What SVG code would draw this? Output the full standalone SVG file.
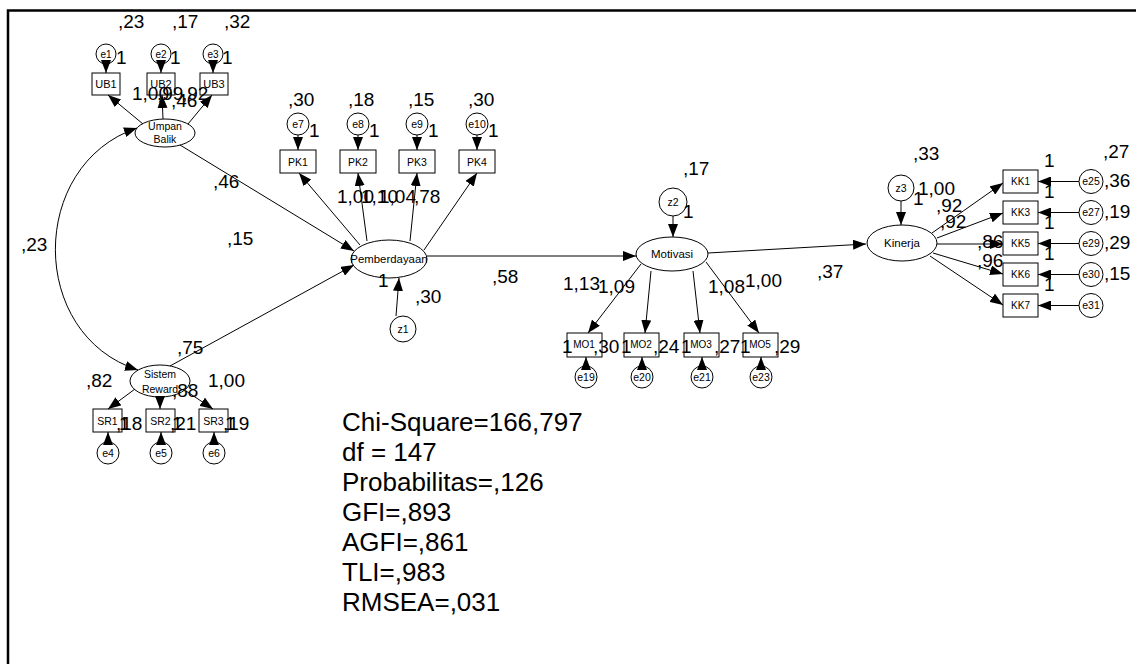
<svg xmlns="http://www.w3.org/2000/svg" width="1136" height="664" viewBox="0 0 1136 664">
<style>
.n rect,.n ellipse,.n circle{fill:#fff;stroke:#000;stroke-width:1}
text{font-family:"Liberation Sans",Arial,sans-serif;fill:#000}
.n text{font-size:10.5px;text-anchor:middle}
.n text.sm{font-size:10px}
.l{font-size:19px}
.s{font-size:26px}
#conn line,#conn path{stroke:#000;stroke-width:1;fill:none;marker-end:url(#ah)}
#conn path.dbl{marker-start:url(#ah2)}
</style>
<defs>
<marker id="ah" viewBox="0 0 13 10" refX="13" refY="5" markerWidth="13" markerHeight="10" markerUnits="userSpaceOnUse" orient="auto"><path d="M0,0 L13,5 L0,10 z" fill="#000"/></marker>
<marker id="ah2" viewBox="0 0 13 10" refX="13" refY="5" markerWidth="13" markerHeight="10" markerUnits="userSpaceOnUse" orient="auto-start-reverse"><path d="M0,0 L13,5 L0,10 z" fill="#000"/></marker>
</defs>
<rect width="1136" height="664" fill="#fff"/>
<path d="M8,664 V10.5 H1136" fill="none" stroke="#000" stroke-width="2.5"/>

<!-- nodes -->
<g class="n">
<g id="UmpanBalik"><ellipse cx="165" cy="133" rx="30" ry="14"/><text x="165" y="130">Umpan</text><text x="165" y="143">Balik</text></g>
<g id="UB1"><rect x="92" y="73" width="28" height="22"/><text x="106" y="88" style="font-size:11px">UB1</text></g>
<g id="UB2"><rect x="147" y="73" width="28" height="22"/><text x="161" y="88" style="font-size:11px">UB2</text></g>
<g id="UB3"><rect x="200" y="73" width="28" height="22"/><text x="214" y="88" style="font-size:11px">UB3</text></g>
<g id="e1"><circle cx="106" cy="54" r="10"/><text x="106" y="57.5" class="sm">e1</text></g>
<g id="e2"><circle cx="161" cy="54" r="10"/><text x="161" y="57.5" class="sm">e2</text></g>
<g id="e3"><circle cx="213" cy="54" r="10"/><text x="213" y="57.5" class="sm">e3</text></g>

<g id="SistemReward"><ellipse cx="160" cy="381" rx="30" ry="16"/><text x="160" y="378">Sistem</text><text x="160" y="393">Reward</text></g>
<g id="SR1"><rect x="93" y="409" width="29" height="23"/><text x="107.5" y="424.5">SR1</text></g>
<g id="SR2"><rect x="146" y="409" width="29" height="23"/><text x="160.5" y="424.5">SR2</text></g>
<g id="SR3"><rect x="199" y="409" width="29" height="23"/><text x="213.5" y="424.5">SR3</text></g>
<g id="e4"><circle cx="108" cy="453" r="11"/><text x="108" y="457">e4</text></g>
<g id="e5"><circle cx="161" cy="453" r="11"/><text x="161" y="457">e5</text></g>
<g id="e6"><circle cx="214" cy="453" r="11"/><text x="214" y="457">e6</text></g>

<g id="Pemberdayaan"><ellipse cx="389" cy="259" rx="38" ry="19"/><text x="389" y="263" style="font-size:11.4px">Pemberdayaan</text></g>
<g id="PK1"><rect x="280" y="150" width="36" height="23"/><text x="298" y="165.5">PK1</text></g>
<g id="PK2"><rect x="340" y="150" width="36" height="23"/><text x="358" y="165.5">PK2</text></g>
<g id="PK3"><rect x="399" y="150" width="36" height="23"/><text x="417" y="165.5">PK3</text></g>
<g id="PK4"><rect x="459" y="150" width="36" height="23"/><text x="477" y="165.5">PK4</text></g>
<g id="e7"><circle cx="298" cy="124" r="11"/><text x="298" y="127.5">e7</text></g>
<g id="e8"><circle cx="358" cy="124" r="11"/><text x="358" y="127.5">e8</text></g>
<g id="e9"><circle cx="417" cy="124" r="11"/><text x="417" y="127.5">e9</text></g>
<g id="e10"><circle cx="477" cy="124" r="11"/><text x="477" y="127.5">e10</text></g>
<g id="z1"><circle cx="403" cy="329" r="13"/><text x="403" y="332.5">z1</text></g>

<g id="Motivasi"><ellipse cx="672" cy="254" rx="36" ry="17"/><text x="672" y="258" style="font-size:11.5px">Motivasi</text></g>
<g id="z2"><circle cx="673" cy="202" r="14"/><text x="673" y="205.5">z2</text></g>
<g id="MO1"><rect x="567" y="333" width="35" height="24"/><text x="584" y="348" class="sm">MO1</text></g>
<g id="MO2"><rect x="624" y="333" width="35" height="24"/><text x="641" y="348" class="sm">MO2</text></g>
<g id="MO3"><rect x="684" y="333" width="35" height="24"/><text x="701" y="348" class="sm">MO3</text></g>
<g id="MO5"><rect x="743" y="333" width="35" height="24"/><text x="760" y="348" class="sm">MO5</text></g>
<g id="e19"><circle cx="586" cy="377" r="11"/><text x="586" y="380.5">e19</text></g>
<g id="e20"><circle cx="642" cy="377" r="11"/><text x="642" y="380.5">e20</text></g>
<g id="e21"><circle cx="702" cy="377" r="11"/><text x="702" y="380.5">e21</text></g>
<g id="e23"><circle cx="761" cy="377" r="11"/><text x="761" y="380.5">e23</text></g>

<g id="Kinerja"><ellipse cx="902" cy="243" rx="35" ry="18"/><text x="902" y="247" style="font-size:11.5px">Kinerja</text></g>
<g id="z3"><circle cx="901" cy="188" r="13"/><text x="901" y="191.5">z3</text></g>
<g id="KK1"><rect x="1003" y="170" width="35" height="23"/><text x="1020.5" y="185" class="sm">KK1</text></g>
<g id="KK3"><rect x="1003" y="201" width="35" height="23"/><text x="1020.5" y="216" class="sm">KK3</text></g>
<g id="KK5"><rect x="1003" y="232" width="35" height="23"/><text x="1020.5" y="247" class="sm">KK5</text></g>
<g id="KK6"><rect x="1003" y="263" width="35" height="23"/><text x="1020.5" y="278" class="sm">KK6</text></g>
<g id="KK7"><rect x="1003" y="294" width="35" height="23"/><text x="1020.5" y="309" class="sm">KK7</text></g>
<g id="e25"><circle cx="1091" cy="181.5" r="12"/><text x="1091" y="185">e25</text></g>
<g id="e27"><circle cx="1091" cy="212.5" r="12"/><text x="1091" y="216">e27</text></g>
<g id="e29"><circle cx="1091" cy="243.5" r="12"/><text x="1091" y="247">e29</text></g>
<g id="e30"><circle cx="1091" cy="274.5" r="12"/><text x="1091" y="278">e30</text></g>
<g id="e31"><circle cx="1091" cy="305.5" r="12"/><text x="1091" y="309">e31</text></g>
</g>

<!-- labels -->
<g id="labels" class="l">
<text x="118" y="28">,23</text><text x="172" y="28">,17</text><text x="224" y="28">,32</text>
<text x="116" y="64">1</text><text x="170" y="64">1</text><text x="222" y="64">1</text>
<text x="132" y="100">1,00</text><text x="157" y="100">,99</text><text x="182" y="100">,92</text><text x="171" y="107">,46</text>
<text x="21" y="251">,23</text>
<text x="213" y="188">,46</text>
<text x="227" y="245">,15</text>
<text x="177" y="354">,75</text>
<text x="86" y="387">,82</text><text x="172" y="397">,88</text><text x="208" y="387">1,00</text>
<text x="116" y="430">,18</text><text x="119" y="430">1</text>
<text x="170" y="430">,21</text><text x="172" y="430">1</text>
<text x="223" y="430">,19</text><text x="225" y="430">1</text>
<text x="288" y="106">,30</text><text x="348" y="106">,18</text><text x="408" y="106">,15</text><text x="468" y="106">,30</text>
<text x="309" y="137">1</text><text x="369" y="137">1</text><text x="428" y="137">1</text><text x="488" y="137">1</text>
<text x="337" y="203">1,00</text><text x="361" y="203">1,10</text><text x="379" y="203">1,04</text><text x="414" y="203">,78</text>
<text x="378" y="287">1</text><text x="415" y="303">,30</text>
<text x="492" y="283">,58</text>
<text x="683" y="175">,17</text><text x="683" y="218">1</text>
<text x="563" y="290">1,13</text><text x="598" y="293">1,09</text><text x="708" y="293">1,08</text><text x="745" y="287">1,00</text>
<text x="817" y="278">,37</text>
<text x="562" y="353">1</text><text x="593" y="353">,30</text>
<text x="621" y="353">1</text><text x="653" y="353">,24</text>
<text x="681" y="353">1</text><text x="714" y="353">,27</text>
<text x="740" y="353">1</text><text x="774" y="353">,29</text>
<text x="913" y="160">,33</text><text x="913" y="205">1</text><text x="918" y="195">1,00</text>
<text x="936" y="212">,92</text><text x="940" y="228">,92</text><text x="977" y="248">,86</text><text x="977" y="267">,96</text>
<text x="1044" y="167">1</text><text x="1044" y="198">1</text><text x="1044" y="229">1</text><text x="1044" y="260">1</text><text x="1044" y="291">1</text>
<text x="1103" y="158">,27</text><text x="1104" y="187">,36</text><text x="1104" y="218">,19</text><text x="1104" y="249">,29</text><text x="1104" y="280">,15</text>
</g>

<!-- connectors -->
<g id="conn">
<path class="dbl" d="M137,128 C28,165 28,335 138,370"/>
<line x1="143" y1="124" x2="108" y2="95"/>
<line x1="163" y1="119" x2="162" y2="95"/>
<line x1="188" y1="124" x2="212" y2="95"/>
<line x1="106" y1="64" x2="106" y2="73"/>
<line x1="161" y1="64" x2="161" y2="73"/>
<line x1="213" y1="64" x2="213" y2="73"/>
<line x1="180" y1="145" x2="354" y2="251"/>
<line x1="170" y1="366" x2="354" y2="265"/>
<line x1="135" y1="389" x2="108" y2="409"/>
<line x1="160" y1="397" x2="160" y2="409"/>
<line x1="186" y1="391" x2="213" y2="409"/>
<line x1="108" y1="442" x2="108" y2="432"/>
<line x1="161" y1="442" x2="161" y2="432"/>
<line x1="214" y1="442" x2="214" y2="432"/>
<line x1="360" y1="245" x2="299" y2="173"/>
<line x1="367" y1="241" x2="358" y2="173"/>
<line x1="410" y1="241" x2="417" y2="173"/>
<line x1="424" y1="250" x2="477" y2="173"/>
<line x1="298" y1="135" x2="298" y2="150"/>
<line x1="358" y1="135" x2="358" y2="150"/>
<line x1="417" y1="135" x2="417" y2="150"/>
<line x1="477" y1="135" x2="477" y2="150"/>
<line x1="396" y1="316" x2="399" y2="278"/>
<line x1="427" y1="256" x2="636" y2="256"/>
<line x1="673" y1="216" x2="673" y2="237"/>
<line x1="708" y1="253" x2="866" y2="244"/>
<line x1="641" y1="264" x2="588" y2="333"/>
<line x1="651" y1="271" x2="645" y2="333"/>
<line x1="693" y1="271" x2="700" y2="333"/>
<line x1="706" y1="262" x2="759" y2="333"/>
<line x1="586" y1="366" x2="586" y2="357"/>
<line x1="642" y1="366" x2="642" y2="357"/>
<line x1="702" y1="366" x2="702" y2="357"/>
<line x1="761" y1="366" x2="761" y2="357"/>
<line x1="901" y1="201" x2="901" y2="225"/>
<line x1="932" y1="233" x2="1003" y2="183"/>
<line x1="937" y1="238" x2="1003" y2="213"/>
<line x1="937" y1="244" x2="1003" y2="244"/>
<line x1="933" y1="253" x2="1003" y2="274"/>
<line x1="930" y1="256" x2="1003" y2="305"/>
<line x1="1079" y1="181.5" x2="1038" y2="181.5"/>
<line x1="1079" y1="212.5" x2="1038" y2="212.5"/>
<line x1="1079" y1="243.5" x2="1038" y2="243.5"/>
<line x1="1079" y1="274.5" x2="1038" y2="274.5"/>
<line x1="1079" y1="305.5" x2="1038" y2="305.5"/>
</g>

<g id="fit" class="s">
<text x="342" y="431">Chi-Square=166,797</text>
<text x="342" y="461">df = 147</text>
<text x="342" y="491">Probabilitas=,126</text>
<text x="342" y="521">GFI=,893</text>
<text x="342" y="551">AGFI=,861</text>
<text x="342" y="581">TLI=,983</text>
<text x="342" y="611">RMSEA=,031</text>
</g>
</svg>
